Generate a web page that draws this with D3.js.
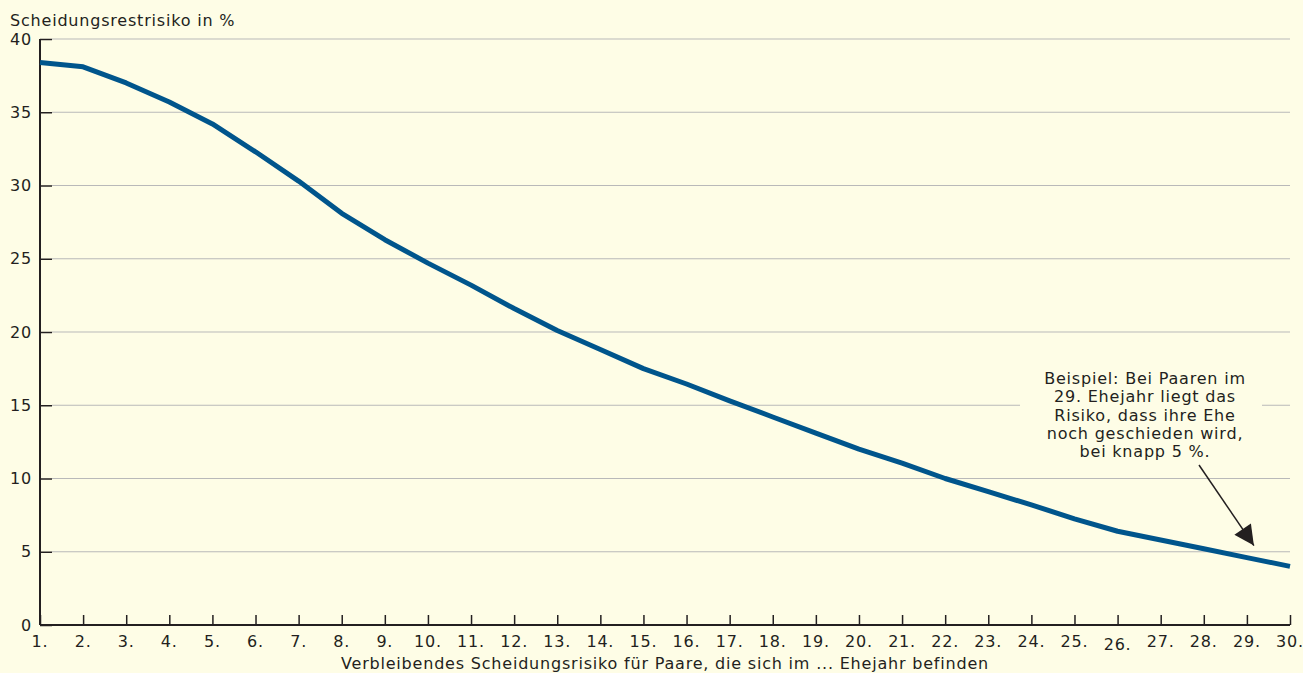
<!DOCTYPE html>
<html><head><meta charset="utf-8">
<script src="https://cdn.jsdelivr.net/npm/d3@7"></script>
<style>
html,body{margin:0;padding:0;background:#fefde6;}
svg{display:block;font-family:"DejaVu Sans",sans-serif;letter-spacing:0.8px;}
</style></head>
<body>
<svg id="chart" width="1303" height="673"></svg>
<script>
const years = d3.range(1, 31);
const tickLabels = years.map(d => d + ".");
const risk = [38.4, 38.1, 37.0, 35.7, 34.2, 32.3, 30.3, 28.1, 26.3, 24.7,
              23.2, 21.6, 20.1, 18.8, 17.5, 16.45, 15.3, 14.2, 13.1, 12.0,
              11.05, 10.0, 9.1, 8.2, 7.25, 6.4, 5.8, 5.2, 4.6, 4.0];
const yTicks = [0, 5, 10, 15, 20, 25, 30, 35, 40];
const yTitle = "Scheidungsrestrisiko in %";
const xTitle = "Verbleibendes Scheidungsrisiko für Paare, die sich im ... Ehejahr befinden";
const noteLines = ["Beispiel: Bei Paaren im", "29. Ehejahr liegt das", "Risiko, dass ihre Ehe", "noch geschieden wird,", "bei knapp 5 %."];
const noteTarget = {year: 29, value: 4.6};

const svg = d3.select("#chart");
const W = 1303, H = 673;
svg.append("rect").attr("width", W).attr("height", H).attr("fill", "#fefde6");

const x = d3.scaleLinear().domain([1, 30]).range([40, 1290]);
const y = d3.scaleLinear().domain([0, 40]).range([625, 39]);
const ink = "#231f20";
const fs = 16;

// gridlines
svg.append("g").selectAll("line").data(yTicks.filter(d => d > 0)).join("line")
  .attr("x1", 52).attr("x2", 1290)
  .attr("y1", d => y(d)).attr("y2", d => y(d))
  .attr("stroke", "#b9b9b9").attr("stroke-width", 1);

// y axis
const yAxis = svg.append("g").attr("transform", "translate(40,0)")
  .call(d3.axisRight(y).tickValues(yTicks).tickSize(12).tickFormat(""));
yAxis.select(".domain").attr("stroke", ink).attr("stroke-width", 2).attr("d", `M0,${y(40)}V${y(0)}`);
yAxis.selectAll(".tick line").attr("stroke", ink).attr("stroke-width", 1.5);
svg.append("g").selectAll("text").data(yTicks).join("text")
  .attr("x", 32).attr("y", d => y(d)).attr("dy", "0.35em")
  .attr("text-anchor", "end").attr("font-size", fs).attr("fill", ink)
  .text(d => d);

// x axis
const xAxis = svg.append("g").attr("transform", `translate(0,${y(0)})`)
  .call(d3.axisTop(x).tickValues(years).tickSize(10).tickFormat(""));
xAxis.select(".domain").attr("stroke", ink).attr("stroke-width", 2).attr("d", `M${x(1)},0H${x(30)}`);
xAxis.selectAll(".tick line").attr("stroke", ink).attr("stroke-width", 1.5);
svg.append("g").selectAll("text").data(years).join("text")
  .attr("x", d => x(d)).attr("y", d => d === 26 ? 644.5 : 641.5).attr("dy", "0.35em")
  .attr("text-anchor", "middle").attr("font-size", fs).attr("fill", ink)
  .text((d, i) => tickLabels[i]);

// titles
svg.append("text").attr("x", 10).attr("y", 26).attr("font-size", fs).attr("fill", ink).text(yTitle);
svg.append("text").attr("x", 665).attr("y", 669).attr("text-anchor", "middle")
  .attr("font-size", fs).attr("fill", ink).text(xTitle);

// line
const line = d3.line().x((d, i) => x(years[i])).y(d => y(d));
svg.append("path").datum(risk).attr("d", line)
  .attr("fill", "none").attr("stroke", "#00558c").attr("stroke-width", 5)
  .attr("stroke-linejoin", "round");

// annotation
const nx = 1145, ny0 = 384, lh = 18.3;
svg.append("rect").attr("x", 1020).attr("y", 366).attr("width", 242).attr("height", 96).attr("fill", "#fefde6");
svg.append("g").selectAll("text").data(noteLines).join("text")
  .attr("x", nx).attr("y", (d, i) => ny0 + i * lh)
  .attr("text-anchor", "middle").attr("font-size", fs).attr("fill", ink)
  .text(d => d);

svg.append("defs").append("marker").attr("id", "arr")
  .attr("viewBox", "0 0 10 10").attr("refX", 10).attr("refY", 5)
  .attr("markerWidth", 24).attr("markerHeight", 20).attr("markerUnits", "userSpaceOnUse")
  .attr("orient", "auto")
  .append("path").attr("d", "M0,0L10,5L0,10Z").attr("fill", ink);
const tx = x(noteTarget.year) + 7, ty = y(noteTarget.value) - 12;
svg.append("line").attr("x1", 1199).attr("y1", 465).attr("x2", tx).attr("y2", ty)
  .attr("stroke", ink).attr("stroke-width", 1.5).attr("marker-end", "url(#arr)");
</script>
</body></html>
